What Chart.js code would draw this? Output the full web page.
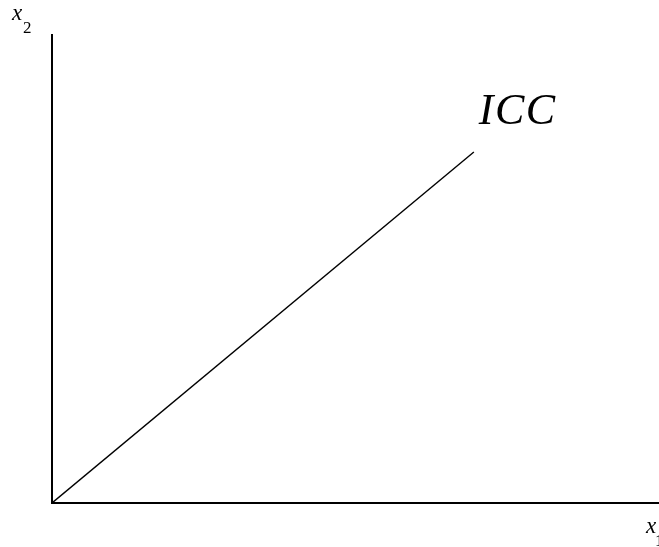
<!DOCTYPE html>
<html><head><meta charset="utf-8">
<script src="https://cdn.jsdelivr.net/npm/chart.js@4/dist/chart.umd.min.js"></script>
<style>html,body{margin:0;padding:0;background:#fff;}#wrap{width:659px;height:547px;}</style>
</head><body><div id="wrap"><canvas id="c" width="659" height="547"></canvas></div>
<script>
const iccX = [0, 69.5];
const iccY = [0, 75];
const curveLabel = "ICC";
const xAxisLabel = ["x", "1"];
const yAxisLabel = ["x", "2"];

const pts = iccX.map((v, i) => ({x: v, y: iccY[i]}));
const SERIF = '"Liberation Serif"';

const labels = {
  id: 'labels',
  afterDraw(chart) {
    const ctx = chart.ctx, ca = chart.chartArea;
    const xs = chart.scales.x, ys = chart.scales.y;
    ctx.save();
    ctx.fillStyle = '#000';
    ctx.textBaseline = 'alphabetic';
    ctx.textAlign = 'left';
    const ex = xs.getPixelForValue(iccX[iccX.length-1]);
    const ey = ys.getPixelForValue(iccY[iccY.length-1]);
    ctx.font = 'italic 44px ' + SERIF;
    try { ctx.letterSpacing = '1.5px'; } catch(e) {}
    ctx.fillText(curveLabel, ex + 5, ey - 28);
    try { ctx.letterSpacing = '0px'; } catch(e) {}
    ctx.font = 'italic 23px ' + SERIF;
    ctx.fillText(yAxisLabel[0], ca.left - 40, ca.top - 15);
    ctx.font = '17px ' + SERIF;
    ctx.fillText(yAxisLabel[1], ca.left - 29, ca.top - 2);
    ctx.font = 'italic 23px ' + SERIF;
    ctx.fillText(xAxisLabel[0], ca.right - 13, ca.bottom + 30);
    ctx.font = '17px ' + SERIF;
    ctx.fillText(xAxisLabel[1], ca.right - 4, ca.bottom + 43);
    ctx.restore();
  }
};

new Chart(document.getElementById('c'), {
  type: 'scatter',
  data: { datasets: [{ data: pts, showLine: true, borderColor: '#000', borderWidth: 1.4, pointRadius: 0, fill: false }] },
  options: {
    responsive: false, animation: false,
    layout: { padding: { left: 52, top: 35, right: 0, bottom: 44 } },
    plugins: { legend: { display: false }, tooltip: { enabled: false } },
    scales: {
      x: { type: 'linear', min: 0, max: 100, grid: { display: false, drawTicks: false }, ticks: { display: false }, border: { display: true, color: '#000', width: 2 } },
      y: { type: 'linear', min: 0, max: 100, grid: { display: false, drawTicks: false }, ticks: { display: false }, border: { display: true, color: '#000', width: 2 } }
    }
  },
  plugins: [labels]
});
</script></body></html>
